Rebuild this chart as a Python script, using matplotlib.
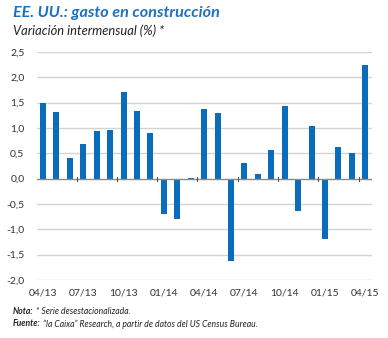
import matplotlib
matplotlib.use("Agg")
import matplotlib.pyplot as plt
import numpy as np

plt.rcParams['font.family'] = ['Lato', 'DejaVu Sans']

# monthly change in construction spending, 04/13 .. 04/15
months = ['04/13', '05/13', '06/13', '07/13', '08/13', '09/13', '10/13', '11/13', '12/13',
          '01/14', '02/14', '03/14', '04/14', '05/14', '06/14', '07/14', '08/14', '09/14',
          '10/14', '11/14', '12/14', '01/15', '02/15', '03/15', '04/15']
values = [1.50, 1.31, 0.41, 0.69, 0.94, 0.96, 1.71, 1.34, 0.90,
          -0.69, -0.80, 0.02, 1.37, 1.30, -1.62, 0.30, 0.10, 0.56,
          1.44, -0.63, 1.04, -1.20, 0.63, 0.50, 2.24]
y_ticks = [-2.0, -1.5, -1.0, -0.5, 0.0, 0.5, 1.0, 1.5, 2.0, 2.5]

blue = '#0a6dbb'
text_col = '#333333'

fig = plt.figure(figsize=(3.88, 3.38), dpi=100)
ax = fig.add_axes([37 / 388, 1 - 280 / 338, (372 - 37) / 388, (280 - 52) / 338])

x = np.arange(len(months))
ax.bar(x, values, width=0.45, color=blue, zorder=3)

ax.set_ylim(-2.0, 2.5)
ax.set_xlim(-0.45, len(months) - 0.5)
ax.set_yticks(y_ticks)
ax.set_yticklabels([f"{v:.1f}".replace('.', ',') for v in y_ticks])
for v in y_ticks:
    if v != 0:
        ax.axhline(v, color='#d4d4d4', lw=1.0, zorder=1)
ax.axhline(0, color='#8a8a8a', lw=1.0, zorder=4)

# small tick marks on the zero line between quarters
for t in np.arange(2.5, len(months) - 1, 3):
    ax.plot([t, t], [-0.05, 0.03], color='#555555', lw=0.8, zorder=5, clip_on=False)

ax.set_xticks(x[::3])
ax.set_xticklabels(months[::3])
ax.tick_params(axis='both', length=0, labelsize=7.5, colors=text_col)
ax.tick_params(axis='x', pad=6)
ax.tick_params(axis='y', pad=9)
for s in ax.spines.values():
    s.set_visible(False)

fig.text(13 / 388, 1 - 13 / 338, 'EE. UU.: gasto en construcción', fontsize=11.6,
         fontweight='bold', style='italic', color='#1a72c0', va='center')
fig.text(13 / 388, 1 - 31 / 338, 'Variación intermensual (%) *', fontsize=9.3,
         style='italic', color='#222222', va='center')

# notes: bold italic label followed by italic text
renderer = fig.canvas.get_renderer()
for ypix, label, rest in [(312, 'Nota:', ' * Serie desestacionalizada.'),
                          (324, 'Fuente:', ' “la Caixa” Research, a partir de datos del US Census Bureau.')]:
    t1 = fig.text(13 / 388, 1 - ypix / 338, label, fontsize=6.2, fontweight='bold',
                  style='italic', color='#222222', va='center')
    bb = t1.get_window_extent(renderer)
    fig.text(bb.x1 / fig.bbox.width, 1 - ypix / 338, rest, fontsize=6.2,
             style='italic', color='#222222', va='center')

fig.savefig('out.png', dpi=100)
